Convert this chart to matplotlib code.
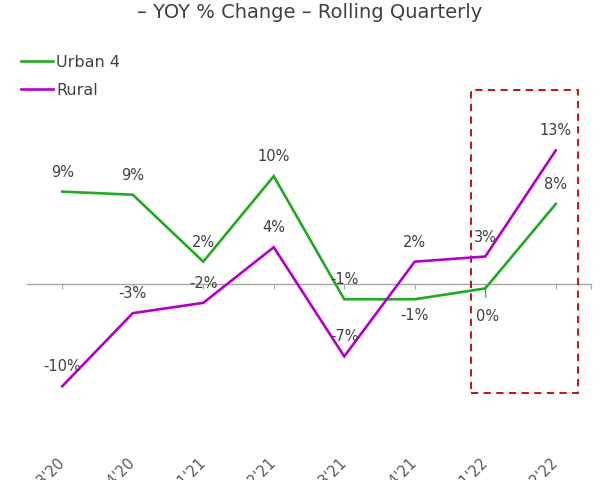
import matplotlib
matplotlib.use("Agg")
import matplotlib.pyplot as plt
from matplotlib.patches import Rectangle

categories = ["Q3'20", "Q4'20", "Q1'21", "Q2'21", "Q3'21", "Q4'21", "Q1'22", "Q2'22"]
urban4 = [9.0, 8.7, 2.2, 10.5, -1.45, -1.45, -0.4, 7.8]
rural = [-9.9, -2.8, -1.8, 3.6, -7.0, 2.2, 2.7, 13.0]
# label placement for Urban 4: 1 = above, -1 = below
urban_label_side = [1, 1, 1, 1, 1, -1, -1, 1]

GREEN = "#1faa1f"
MAGENTA = "#b300c8"
TEXT = "#404040"
GRAY = "#a6a6a6"

plt.rcParams['font.family'] = ['DejaVu Sans']

fig = plt.figure(figsize=(6, 4.8), dpi=100)
ax = fig.add_axes([27/600, 28/480, 564/600, 392/480])
x = list(range(len(categories)))

l1, = ax.plot(x, urban4, color=GREEN, lw=1.9, label="Urban 4", solid_joinstyle='miter')
l2, = ax.plot(x, rural, color=MAGENTA, lw=1.9, label="Rural", solid_joinstyle='miter')

ax.set_xlim(-0.5, 7.5)
ax.set_ylim(-16.28, 21.78)

for s in ax.spines.values():
    s.set_visible(False)
ax.set_yticks([])
ax.set_xticks(x)
ax.set_xticklabels(categories, rotation=45, ha='right', va='center',
                   rotation_mode='anchor', color="#595959", fontsize=10.5)
ax.tick_params(axis='x', length=0, pad=6)

# zero line with tick marks
sec = ax.secondary_xaxis(0, transform=ax.transData)
sec.spines['bottom'].set_color(GRAY)
sec.spines['bottom'].set_linewidth(1.0)
sec.set_xticks(x + [7.5])
sec.set_xticklabels([])
sec.tick_params(axis='x', length=3.5, width=0.8, color=GRAY, direction='out')

def fmt(v):
    return f"{round(v):.0f}%"

for xi, v, side in zip(x, urban4, urban_label_side):
    if side > 0:
        ax.annotate(fmt(v), (xi, v), xytext=(0, 14), textcoords='offset points',
                    ha='center', va='center', fontsize=10.5, color=TEXT)
    elif xi == 6:
        ax.annotate(fmt(v), (xi, v), xytext=(1.5, -20), textcoords='offset points',
                    ha='center', va='center', fontsize=10.5, color=TEXT,
                    arrowprops=dict(arrowstyle='-', color='#707070', lw=0.8,
                                    shrinkA=6, shrinkB=0))
    else:
        ax.annotate(fmt(v), (xi, v), xytext=(0, -11.5), textcoords='offset points',
                    ha='center', va='center', fontsize=10.5, color=TEXT)

for xi, v in zip(x, rural):
    ax.annotate(fmt(v), (xi, v), xytext=(0, 14), textcoords='offset points',
                ha='center', va='center', fontsize=10.5, color=TEXT)

# highlight box
ax.add_patch(Rectangle((5.8, -10.55), 1.52, 29.4, fill=False, edgecolor="#c00000",
                       lw=1.3, linestyle=(0, (4, 3)), clip_on=False))

fig.text(310/600, 1 - 12/480, "– YOY % Change – Rolling Quarterly", ha='center',
         va='center', fontsize=14, color=TEXT)

ax.legend(handles=[l1, l2], loc='upper left', bbox_to_anchor=(21/600, 1 - 55/480),
          bbox_transform=fig.transFigure, frameon=False, borderpad=0, borderaxespad=0,
          handlelength=2.0, handletextpad=0.2, labelspacing=0.8, fontsize=11.5,
          labelcolor=TEXT)

fig.savefig("out.png", dpi=100)
